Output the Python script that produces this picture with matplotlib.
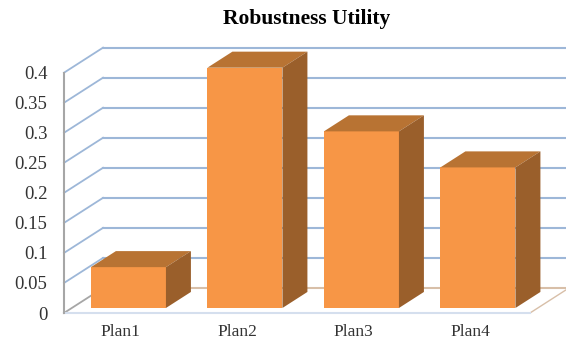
# Pseudo-3D column chart, drawn with plain matplotlib polygons
import matplotlib.pyplot as plt
import numpy as np

plans = ['Plan1', 'Plan2', 'Plan3', 'Plan4']
utility = [0.068, 0.40, 0.294, 0.234]
y_ticks = [0, 0.05, 0.1, 0.15, 0.2, 0.25, 0.3, 0.35, 0.4]
y_tick_labels = ['0', '0.05', '0.1', '0.15', '0.2', '0.25', '0.3', '0.35', '0.4']

# how far the back wall sits from the front plane, in data units
DEPTH_X = 0.335
DEPTH_Y = 0.0417
BAR_WIDTH = 0.644
BAR_FRONT = 0.2
BAR_BACK = 0.84
CENTER_SHIFT = -0.014

FRONT = '#F79646'
TOP = '#B87333'
SIDE = '#9A5F2B'
GRID = '#9DB7D8'
FLOOR = '#D8BFA8'
AXIS = '#A6A6A6'


def project(x, y, depth):
    return x + DEPTH_X * depth, y + DEPTH_Y * depth


def draw_bar(ax, center, value):
    left = center - BAR_WIDTH / 2
    right = center + BAR_WIDTH / 2
    fx, fy = project(left, 0, BAR_FRONT)
    ax.bar(fx, value, BAR_WIDTH, bottom=fy, align='edge', color=FRONT, zorder=3, clip_on=False)

    a = project(left, value, BAR_FRONT)
    b = project(right, value, BAR_FRONT)
    c = project(right, value, BAR_BACK)
    d = project(left, value, BAR_BACK)
    ax.fill([a[0], b[0], c[0], d[0]], [a[1], b[1], c[1], d[1]], color=TOP, lw=0, zorder=3, clip_on=False)

    e = project(right, 0, BAR_FRONT)
    f = project(right, 0, BAR_BACK)
    ax.fill([e[0], f[0], c[0], b[0]], [e[1], f[1], c[1], b[1]], color=SIDE, lw=0, zorder=3, clip_on=False)


def main():
    plt.rcParams['font.family'] = ['Liberation Serif', 'DejaVu Serif']
    fig = plt.figure(figsize=(5.66, 3.41), dpi=100)
    ax = fig.add_axes([64 / 566, 28 / 341, 466 / 566, 240.3 / 341])
    ax.set_xlim(0, 4)
    ax.set_ylim(0, 0.4)

    # back wall lines
    for tick in y_ticks:
        color = FLOOR if tick == 0 else GRID
        bx, by = project(0, tick, 1)
        ex, ey = project(4, tick, 1)
        if tick > 0:
            ax.plot([0, bx], [tick, by], color=GRID, lw=1.3, zorder=1, clip_on=False)
        else:
            ax.plot([0, bx], [tick, by], color=AXIS, lw=1.3, zorder=1, clip_on=False)
        ax.plot([bx, ex], [by, ey], color=color, lw=1.5, zorder=1, clip_on=False)

    # floor edges and the left axis
    rx, ry = project(4, 0, 1)
    ax.plot([4, rx], [0, ry], color=FLOOR, lw=1.0, zorder=1, clip_on=False)
    ax.plot([0, 4], [0, 0], color='#D5DFEE', lw=1.5, zorder=2, clip_on=False)
    ax.plot([0, 0], [0, 0.4], color=AXIS, lw=1.5, zorder=2, clip_on=False)

    centers = np.arange(len(plans)) + 0.5 + CENTER_SHIFT
    for center, value in zip(centers, utility):
        draw_bar(ax, center, value)

    for side in ax.spines.values():
        side.set_visible(False)
    ax.set_yticks(y_ticks)
    ax.set_yticklabels(y_tick_labels)
    ax.set_xticks(centers)
    ax.set_xticklabels(plans)
    ax.tick_params(axis='y', length=0, pad=12, labelsize=13.5, labelcolor='#333333')
    ax.tick_params(axis='x', length=0, pad=8, labelsize=12.5, labelcolor='#333333')
    ax.set_title('Robustness Utility', x=0.521, pad=35, fontsize=15.5, fontweight='bold', color='black')

    fig.savefig('out.png', dpi=100)


if __name__ == "__main__":
    main()
